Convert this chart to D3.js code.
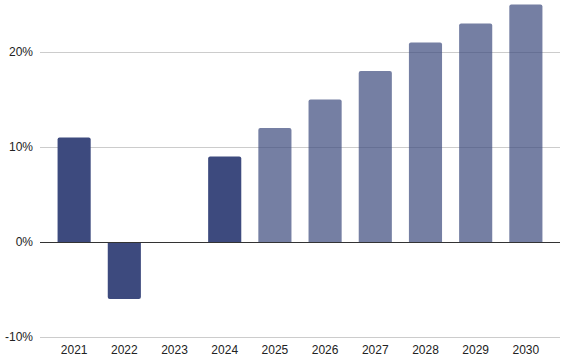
<!DOCTYPE html>
<html>
<head>
<meta charset="utf-8">
<script src="https://cdn.jsdelivr.net/npm/d3@7"></script>
<style>
  body { margin: 0; background: #fff; }
  svg text { font-family: "Liberation Sans", Arial, sans-serif; font-size: 12px; fill: #222; }
</style>
</head>
<body>
<div id="chart"></div>
<script>
// growth per year, in percent; years after 2024 are projections
var years = ["2021", "2022", "2023", "2024", "2025", "2026", "2027", "2028", "2029", "2030"];
var growth = [11, -6, 0, 9, 12, 15, 18, 21, 23, 25];
var projected = [false, false, false, false, true, true, true, true, true, true];
var yTicks = [-10, 0, 10, 20];

var width = 561, height = 363;

var svg = d3.select("#chart").append("svg")
    .attr("width", width)
    .attr("height", height);

var x = d3.scaleBand()
    .domain(years)
    .range([40, 560])
    .paddingInner(0.34)
    .paddingOuter(0.35);

var y = d3.scaleLinear()
    .domain([-10, 20])
    .range([337, 52]);

// gridlines + y labels
var yAxis = d3.axisLeft(y)
    .tickValues(yTicks)
    .tickSize(-(560 - 40))
    .tickPadding(7)
    .tickFormat(function(d) { return d + "%"; });

var gy = svg.append("g")
    .attr("transform", "translate(40,0)")
    .call(yAxis);
gy.select(".domain").remove();
gy.selectAll(".tick line")
    .attr("stroke", function(d) { return d === 0 ? "#333" : "#ccc"; })
    .attr("stroke-width", 1);
gy.selectAll(".tick text").attr("font-size", 12).attr("fill", "#222");

// bar path with rounded corners at the far end only
function barPath(d, i) {
    var x0 = x(years[i]), w = x.bandwidth(), r = 2;
    var y0 = y(0), y1 = y(d);
    if (d === 0) return "";
    var s = d > 0 ? 1 : -1;
    return "M" + x0 + "," + y0 +
        "V" + (y1 + s * r) +
        "Q" + x0 + "," + y1 + " " + (x0 + r) + "," + y1 +
        "H" + (x0 + w - r) +
        "Q" + (x0 + w) + "," + y1 + " " + (x0 + w) + "," + (y1 + s * r) +
        "V" + y0 + "Z";
}

svg.append("g").selectAll("path")
    .data(growth)
    .enter().append("path")
    .attr("d", barPath)
    .attr("fill", "#3d4a7e")
    .attr("fill-opacity", function(d, i) { return projected[i] ? 0.71 : 1; });

// zero line on top of bars
svg.append("line")
    .attr("x1", 40).attr("x2", 560)
    .attr("y1", y(0) + 0.5).attr("y2", y(0) + 0.5)
    .attr("stroke", "#333");

// x labels
var xAxis = d3.axisBottom(x).tickSize(0).tickPadding(8);
var gx = svg.append("g")
    .attr("transform", "translate(0," + y(-10) + ")")
    .call(xAxis);
gx.select(".domain").remove();
gx.selectAll(".tick text").attr("font-size", 12).attr("fill", "#222");
</script>
</body>
</html>
